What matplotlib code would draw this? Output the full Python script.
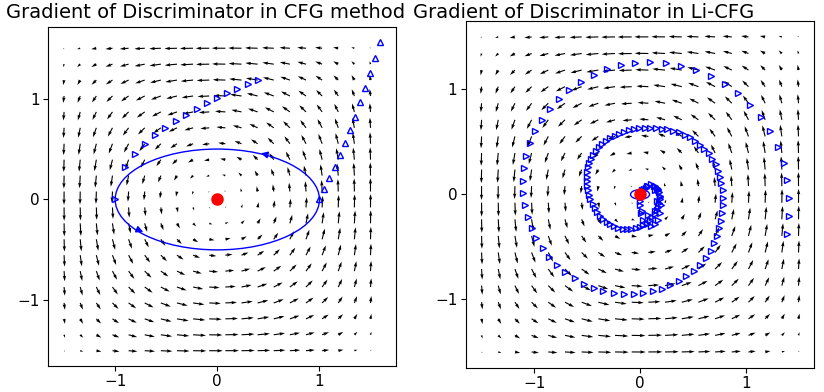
import numpy as np
import matplotlib
matplotlib.use('Agg')
import matplotlib.pyplot as plt
from matplotlib.patches import Ellipse

# quiver grid and the rotating discriminator gradient field
grid = np.linspace(-1.5, 1.5, 20)


def field(x, y):
    return -np.cos(x) * np.sin(y), np.sin(x) * np.cos(y)


# left panel: CFG trajectories
cfg_right_x = [-1.0, -0.906, -0.805, -0.707, -0.609, -0.508, -0.405, -0.303, -0.202,
               -0.1, 0.0, 0.098, 0.195, 0.296, 0.394]
cfg_right_y = [0.0, 0.323, 0.45, 0.551, 0.639, 0.711, 0.779, 0.841, 0.896,
               0.955, 1.004, 1.053, 1.099, 1.144, 1.187]
cfg_up_x = [1.0, 1.049, 1.098, 1.15, 1.198, 1.247, 1.296, 1.345, 1.394, 1.446, 1.495, 1.546, 1.595]
cfg_up_y = [0.0, 0.101, 0.209, 0.323, 0.437, 0.561, 0.688, 0.821, 0.962, 1.102, 1.251, 1.402, 1.561]

# right panel: Li-CFG spiral
li_x = [1.390, 1.409, 1.409, 1.393, 1.358, 1.305, 1.226, 1.142, 1.038, 0.927, 0.802, 0.667,
        0.528, 0.387, 0.242, 0.094, -0.044, -0.182, -0.314, -0.440, -0.563, -0.670, -0.764,
        -0.855, -0.928, -0.991, -1.044, -1.079, -1.101, -1.110, -1.104, -1.088, -1.063, -1.025,
        -0.981, -0.921, -0.858, -0.783, -0.708, -0.620, -0.531, -0.437, -0.346, -0.248, -0.154,
        -0.059, 0.031, 0.123, 0.208, 0.286, 0.368, 0.437, 0.507, 0.569, 0.623, 0.667, 0.701,
        0.726, 0.752, 0.771, 0.780, 0.786, 0.789, 0.783, 0.771, 0.758, 0.742, 0.717, 0.682,
        0.648, 0.610, 0.566, 0.522,
        0.472, 0.425, 0.371, 0.314, 0.258, 0.205, 0.151, 0.097, 0.047, -0.006, -0.057, -0.104,
        -0.151, -0.195, -0.239, -0.283, -0.321, -0.356, -0.390, -0.418, -0.443, -0.465, -0.481,
        -0.494, -0.500, -0.503, -0.503, -0.500, -0.494, -0.481, -0.469, -0.450, -0.428, -0.403,
        -0.377, -0.346, -0.314, -0.280, -0.242, -0.204, -0.163, -0.123, -0.082, -0.041, -0.003,
        0.031, 0.063, 0.092, 0.116, 0.139, 0.158, 0.170, 0.179, 0.186, 0.186, 0.182, 0.173, 0.158,
        0.13,
        0.1, 0.062, 0.029, 0.008, 0.0, 0.008, 0.029, 0.062, 0.1, 0.138, 0.171, 0.192, 0.2,
        0.192, 0.171, 0.138,
        0.08, 0.023, 0.0, 0.023, 0.08, 0.137, 0.16, 0.137, 0.06, 0.04]
li_y = [-0.374, -0.201, -0.031, 0.135, 0.296, 0.456, 0.601, 0.733, 0.852, 0.962, 1.053, 1.126,
        1.182, 1.226, 1.252, 1.261, 1.255, 1.233, 1.192, 1.142, 1.075, 0.997, 0.909, 0.814,
        0.711, 0.601, 0.488, 0.368, 0.252, 0.132, 0.016, -0.101, -0.211, -0.318, -0.418, -0.509,
        -0.594, -0.673, -0.742, -0.799, -0.852, -0.890, -0.918, -0.941, -0.950, -0.946, -0.941,
        -0.922, -0.899, -0.865, -0.821, -0.777, -0.726, -0.670, -0.604, -0.535, -0.462, -0.396,
        -0.324, -0.255, -0.179, -0.104, -0.035, 0.041, 0.110, 0.167, 0.220, 0.286, 0.342, 0.390,
        0.431, 0.475, 0.512,
        0.544, 0.569, 0.591, 0.607, 0.620, 0.626, 0.632, 0.635, 0.632, 0.629, 0.620, 0.610,
        0.594, 0.578, 0.560, 0.535, 0.509, 0.481, 0.450, 0.415, 0.377, 0.340, 0.299, 0.258,
        0.214, 0.170, 0.126, 0.082, 0.038, -0.006, -0.047, -0.088, -0.129, -0.167, -0.201,
        -0.233, -0.261, -0.286, -0.305, -0.321, -0.330, -0.333, -0.330, -0.324, -0.311, -0.292,
        -0.271, -0.245, -0.217, -0.186, -0.151, -0.116, -0.082, -0.047, -0.012, 0.019, 0.047,
        0.066,
        0.085,
        0.1, 0.085, 0.041, -0.023, -0.1, -0.177, -0.241, -0.285, -0.3, -0.285, -0.241, -0.177,
        -0.1, -0.023, 0.041, 0.085,
        0.08, 0.039, -0.06, -0.159, -0.2, -0.159, -0.06, 0.039, 0.06, 0.05]

X, Y = np.meshgrid(grid, grid)
U, V = field(X, Y)

fig = plt.figure(figsize=(8.24, 3.92), dpi=100)
ax1 = fig.add_axes([0.0586, 0.066, 0.422, 0.866])
ax2 = fig.add_axes([0.5652, 0.062, 0.4231, 0.884])

for ax in (ax1, ax2):
    ax.quiver(X, Y, U, V, angles='xy', scale_units='xy', scale=7.5, width=0.0032,
              color='black')
    ax.set_xticks([-1, 0, 1])
    ax.set_yticks([-1, 0, 1])
    ax.tick_params(labelsize=11, pad=2.5)

# CFG
ax1.add_patch(Ellipse((0, 0), 2.0, 1.0, fill=False, edgecolor='blue', lw=1))
ax1.annotate('', xy=(-0.70, -0.335), xytext=(-0.80, -0.29),
             arrowprops=dict(arrowstyle='-|>', color='blue', lw=1, mutation_scale=10))
ax1.annotate('', xy=(0.40, 0.465), xytext=(0.50, 0.44),
             arrowprops=dict(arrowstyle='-|>', color='blue', lw=1, mutation_scale=10))
ax1.plot(cfg_right_x, cfg_right_y, '>', color='blue', markerfacecolor='none', markersize=4.5, linestyle='none')
ax1.plot(cfg_up_x, cfg_up_y, '^', color='blue', markerfacecolor='none', markersize=4.5, linestyle='none')
ax1.plot(0, 0, 'o', color='red', markersize=8)

# Li-CFG
ax2.plot(li_x, li_y, '>', color='blue', markerfacecolor='none', markersize=4.5, linestyle='none')
ax2.add_patch(Ellipse((0, 0), 0.18, 0.09, fill=False, edgecolor='blue', lw=1))
ax2.plot(0, 0, 'o', color='red', markersize=8)

fig.text(206 / 824, 1 - 13 / 392, 'Gradient of Discriminator in CFG method', ha='center', va='center', fontsize=14)
fig.text(584 / 824, 1 - 13 / 392, 'Gradient of Discriminator in Li-CFG', ha='center', va='center', fontsize=14)

fig.savefig('out.png', dpi=100)
